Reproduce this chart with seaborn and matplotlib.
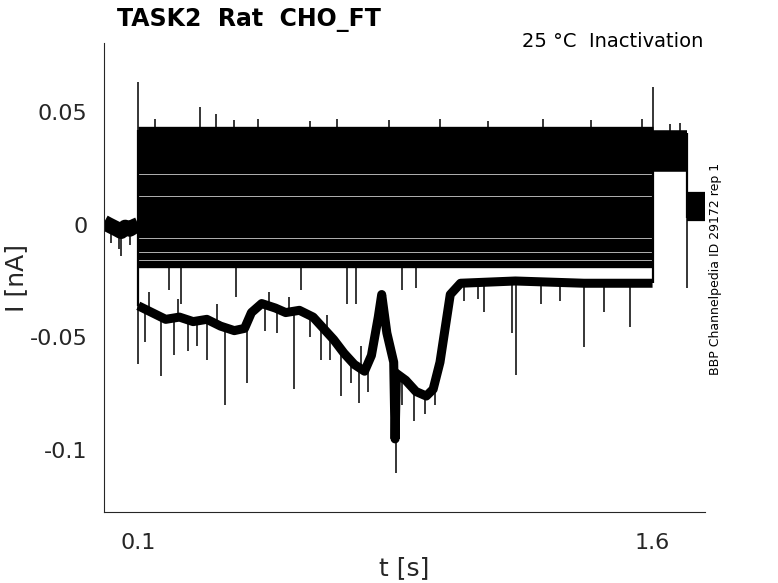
import numpy as np
import pandas as pd
import matplotlib
matplotlib.use("Agg")
import matplotlib.pyplot as plt
import seaborn as sns

# ---------------- data ----------------
t_on, t_off, t_test_end, t_end = 0.1, 1.6, 1.70, 1.753

# holding level of each sweep during the conditioning step (0.1-1.6 s) [nA]
step_levels = [0.0420, 0.0390, 0.0360, 0.0330, 0.0300, 0.0270, 0.0240, 0.0205,
               0.0175, 0.0145, 0.0110, 0.0080, 0.0050, 0.0020, -0.0010, -0.0040,
               -0.0075, -0.0105, -0.0140, -0.0175]
# level during the test pulse (1.6-1.7 s)
post_levels = [0.0405, 0.0395, 0.0388, 0.0380, 0.0372, 0.0365, 0.0357, 0.0350,
               0.0342, 0.0335, 0.0327, 0.0320, 0.0312, 0.0305, 0.0297, 0.0290,
               0.0280, 0.0270, 0.0258, 0.0245]
# level after the test pulse (1.7 s - end)
tail_levels = [0.0130, 0.0125, 0.0120, 0.0115, 0.0110, 0.0105, 0.0100, 0.0095,
               0.0090, 0.0085, 0.0080, 0.0075, 0.0070, 0.0065, 0.0060, 0.0055,
               0.0050, 0.0045, 0.0038, 0.0030]

# baseline before the step (all sweeps overlap)
base_t = [0.000, 0.012, 0.025, 0.038, 0.050, 0.062, 0.075, 0.088, 0.100]
base_I = [0.0010, 0.0000, -0.0010, -0.0020, -0.0030, -0.0012, -0.0020, -0.0008, 0.0000]

# the one sweep that runs far below the others
deep_t = [0.100, 0.14, 0.18, 0.22, 0.26, 0.30, 0.34, 0.38, 0.41, 0.43, 0.46, 0.50,
          0.53, 0.57, 0.61, 0.64, 0.67, 0.70, 0.73, 0.76, 0.78, 0.80, 0.81, 0.825,
          0.845, 0.849, 0.853, 0.88, 0.91, 0.94, 0.96, 0.98, 0.995, 1.01, 1.04,
          1.20, 1.40, 1.60]
deep_I = [-0.036, -0.039, -0.042, -0.041, -0.043, -0.042, -0.045, -0.047, -0.046,
          -0.039, -0.035, -0.037, -0.039, -0.038, -0.041, -0.046, -0.051, -0.057,
          -0.062, -0.065, -0.058, -0.041, -0.031, -0.048, -0.061, -0.095, -0.066,
          -0.069, -0.074, -0.076, -0.073, -0.061, -0.046, -0.031, -0.026, -0.025,
          -0.026, -0.026]

# single-sample spikes: time, start level, tip level
spike_t = [0.100, 1.600, 0.280, 0.327, 0.100, 1.700, 0.851,
           0.167, 0.301, 0.354, 0.417, 0.553, 0.633, 0.691, 0.743, 0.905,
           0.120, 0.205, 0.245, 0.270, 0.470, 0.505, 0.600, 0.660, 0.720,
           0.770, 0.870, 0.935, 0.965,
           0.130, 0.215, 0.330, 0.480, 0.540, 0.650, 0.750,
           1.050, 1.109, 1.190, 1.201, 1.274, 1.400, 1.458, 1.534, 1.330, 1.090,
           0.045, 0.050, 0.020, 0.075,
           0.190, 0.225, 0.385, 0.575, 0.710, 0.735, 0.870, 0.910,
           0.150, 0.380, 0.450, 0.600, 0.680, 0.830, 0.980, 1.120, 1.280, 1.420,
           1.570, 1.650, 1.680]
spike_from = [0.0420, 0.0400, 0.0420, 0.0420, -0.0360, 0.0030, -0.0650,
              -0.0410, -0.0420, -0.0460, -0.0450, -0.0390, -0.0440, -0.0560, -0.0630, -0.0740,
              -0.0380, -0.0420, -0.0420, -0.0420, -0.0360, -0.0370, -0.0400, -0.0480, -0.0600,
              -0.0640, -0.0680, -0.0750, -0.0720,
              -0.0380, -0.0410, -0.0440, -0.0360, -0.0380, -0.0480, -0.0640,
              -0.0260, -0.0260, -0.0260, -0.0260, -0.0260, -0.0260, -0.0260, -0.0260, -0.0260, -0.0260,
              0.0000, 0.0000, 0.0000, 0.0000,
              -0.0175, -0.0175, -0.0175, -0.0175, -0.0175, -0.0175, -0.0175, -0.0175,
              0.0420, 0.0420, 0.0420, 0.0420, 0.0420, 0.0420, 0.0420, 0.0420, 0.0420, 0.0420,
              0.0420, 0.0400, 0.0400]
spike_to = [0.0630, 0.0610, 0.0520, 0.0490, -0.0620, -0.0283, -0.1100,
            -0.0670, -0.0600, -0.0800, -0.0700, -0.0727, -0.0600, -0.0760, -0.0790, -0.0870,
            -0.0520, -0.0580, -0.0560, -0.0540, -0.0470, -0.0480, -0.0500, -0.0600, -0.0700,
            -0.0740, -0.0800, -0.0840, -0.0800,
            -0.0300, -0.0330, -0.0350, -0.0300, -0.0320, -0.0400, -0.0540,
            -0.0340, -0.0388, -0.0480, -0.0668, -0.0350, -0.0543, -0.0388, -0.0454, -0.0340, -0.0330,
            -0.0110, -0.0137, -0.0080, -0.0090,
            -0.0290, -0.0350, -0.0320, -0.0290, -0.0350, -0.0350, -0.0290, -0.0280,
            0.0470, 0.0465, 0.0470, 0.0460, 0.0470, 0.0465, 0.0470, 0.0460, 0.0470, 0.0465,
            0.0470, 0.0445, 0.0450]

# ---------------- build tables ----------------
rows = []
for i, (a, b, c) in enumerate(zip(step_levels, post_levels, tail_levels)):
    rows += [(i, "step", t_on, a), (i, "step", t_off, a),
             (i, "post", t_off, b), (i, "post", t_test_end, b),
             (i, "tail", t_test_end, c), (i, "tail", t_end, c)]
df = pd.DataFrame(rows, columns=["sweep", "phase", "t", "I"])
df_base = pd.DataFrame({"t": base_t, "I": base_I})
df_deep = pd.DataFrame({"t": deep_t, "I": deep_I})

# ---------------- figure ----------------
sns.set_style("white")
plt.rcParams["font.family"] = ["DejaVu Sans"]
axcol = "#262626"

fig = plt.figure(figsize=(7.78, 5.83), dpi=100)
ax = fig.add_axes([104 / 778, 1 - 512 / 583, 601 / 778, 469 / 583])

lw_phase = {"step": 5.3, "post": 4.0, "tail": 4.5}
for ph, lw in lw_phase.items():
    sns.lineplot(data=df[df.phase == ph], x="t", y="I", units="sweep", estimator=None,
                 color="black", lw=lw, solid_capstyle="butt", legend=False, ax=ax,
                 sort=False)

sns.lineplot(data=df_base, x="t", y="I", color="black", lw=11,
             solid_capstyle="butt", estimator=None, sort=False, ax=ax)
sns.lineplot(data=df_deep, x="t", y="I", color="black", lw=6.5,
             solid_capstyle="butt", solid_joinstyle="round", estimator=None,
             sort=False, ax=ax)

# transitions between holding levels
ax.vlines([t_on], min(deep_I[0], min(base_I)), max(step_levels), color="black", lw=1.6)
ax.vlines([t_off], min(deep_I[-1], min(step_levels)), max(post_levels), color="black", lw=1.6)
ax.vlines([t_test_end], min(tail_levels), max(post_levels), color="black", lw=1.6)
ax.vlines(spike_t, spike_from, spike_to, color="black", lw=1.1)

ax.set_xlim(0, t_end)
ax.set_ylim(-0.1274, 0.0805)
ax.set_xticks([0.1, 1.6])
ax.set_xticklabels(["0.1", "1.6"])
ax.set_yticks([-0.1, -0.05, 0, 0.05])
ax.set_yticklabels(["-0.1", "-0.05", "0", "0.05"])

for s in ["top", "right"]:
    ax.spines[s].set_visible(False)
for s in ["left", "bottom"]:
    ax.spines[s].set_color(axcol)
    ax.spines[s].set_linewidth(0.8)

ax.tick_params(axis="both", direction="in", length=5, width=0.8, color=axcol,
               labelcolor=axcol, labelsize=16)
ax.tick_params(axis="x", pad=15)
ax.tick_params(axis="y", pad=12)

ax.set_xlabel("t [s]", fontsize=18, color=axcol, labelpad=2)
ax.set_ylabel("I [nA]", fontsize=18, color=axcol, labelpad=1)

fig.text(248.5 / 778, 1 - 26 / 583, "TASK2  Rat  CHO_FT", ha="center", va="baseline",
         fontsize=17, fontweight="bold", color="black")
fig.text(703 / 778, 1 - 47.3 / 583, "25 \u00b0C  Inactivation", ha="right", va="baseline",
         fontsize=14, color="black")
fig.text(716 / 778, 1 - 268.5 / 583, "BBP Channelpedia ID 29172 rep 1", ha="center",
         va="center", rotation=90, fontsize=9, color="black")

fig.savefig("out.png", dpi=100)
